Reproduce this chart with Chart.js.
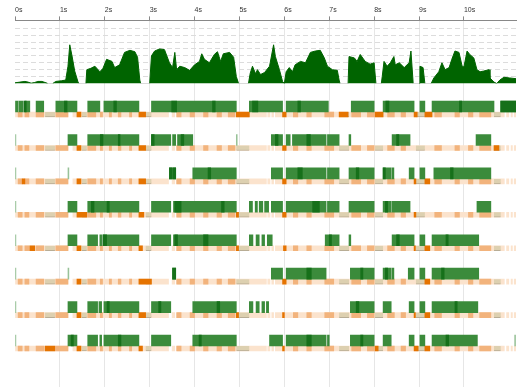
<!DOCTYPE html>
<html lang="en">
<head>
<meta charset="UTF-8">
<title>Thread timeline</title>
<script src="https://cdn.jsdelivr.net/npm/chart.js"></script>
<style>
    * { margin: 0; padding: 0; box-sizing: border-box; }
    body { background: #fff; width: 518px; height: 387px; overflow: hidden; }
    #timeline { display: block; }
</style>
</head>
<body>
<canvas id="timeline" width="518" height="387"></canvas>
<script>
// time axis labels (seconds)
const tickLabels = ['0s', '1s', '2s', '3s', '4s', '5s', '6s', '7s', '8s', '9s', '10s'];

// activity curve on top (time in s, value)
const areaTimes = [0, 0.11, 0.22, 0.29, 0.36, 0.44, 0.51, 0.6, 0.69, 0.73, 0.84, 0.91, 1.04, 1.13, 1.18, 1.22, 1.27, 1.33, 1.4, 1.42,
    1.58, 1.6, 1.69, 1.78, 1.89, 1.96, 2.04, 2.16, 2.22, 2.33, 2.44, 2.56, 2.67, 2.73, 2.78, 2.8,
    3.0, 3.04, 3.11, 3.22, 3.33, 3.44, 3.51, 3.56, 3.6, 3.67, 3.78, 3.89, 4.0, 4.11, 4.16, 4.22, 4.33, 4.44, 4.51, 4.58, 4.64, 4.78, 4.87, 4.93, 4.98,
    5.2, 5.24, 5.29, 5.36, 5.4, 5.47, 5.56, 5.67, 5.76, 5.8, 5.89, 5.96, 6.0,
    6.04, 6.11, 6.18, 6.24, 6.36, 6.47, 6.58, 6.69, 6.8, 6.89, 6.96, 7.07, 7.18, 7.22, 7.24,
    7.42, 7.44, 7.56, 7.62, 7.69, 7.8, 7.91, 8.0, 8.04,
    8.16, 8.18, 8.22, 8.29, 8.36, 8.44, 8.47, 8.56, 8.67, 8.78, 8.82, 8.87,
    9.0, 9.02, 9.09, 9.13, 9.27, 9.33, 9.44, 9.51, 9.58, 9.67, 9.73, 9.8, 9.89, 9.96, 10.0, 10.07, 10.13, 10.22, 10.29, 10.36, 10.44, 10.56, 10.58, 10.67, 10.73,
    10.8, 10.89, 11.02, 11.16];
const areaValues = [0.1, 0.2, 0.3, 0.2, 0.05, 0.15, 0.3, 0.3, 0.1, 0, 0, 0.3, 0.4, 0.5, 2.5, 5.6, 4.0, 1.8, 0.3, 0,
    0, 2.0, 2.2, 2.5, 1.7, 2.2, 3.5, 3.2, 2.3, 2.7, 4.5, 4.8, 4.6, 3.8, 0.5, 0,
    0, 4.0, 4.7, 5.0, 4.9, 3.0, 2.3, 4.5, 2.0, 2.5, 2.3, 1.9, 2.7, 3.2, 4.3, 3.5, 3.0, 4.2, 4.6, 3.2, 4.3, 4.5, 3.8, 1.0, 0,
    0, 1.5, 2.5, 1.4, 2.0, 1.3, 1.6, 2.5, 5.6, 3.9, 2.0, 0.3, 0,
    1.7, 2.3, 1.7, 2.7, 3.2, 3.0, 4.5, 4.7, 4.8, 3.7, 2.5, 2.0, 1.9, 0.5, 0,
    0, 3.9, 3.7, 3.2, 4.2, 3.2, 2.8, 3.0, 0,
    0, 1.0, 3.2, 2.5, 3.0, 3.9, 2.7, 3.0, 2.3, 3.0, 4.7, 0,
    0, 2.5, 2.3, 0, 0, 0.8, 1.7, 3.0, 2.0, 2.3, 3.5, 4.7, 4.5, 2.5, 2.4, 4.7, 4.2, 3.7, 2.0, 1.7, 1.8, 2.0, 0.8, 0.2, 0,
    0.5, 0.9, 0.8, 0.7];

// thread lanes: running intervals [start, end] in s
const running = [
    [[0, 0.07], [0.09, 0.18], [0.22, 0.33], [0.47, 0.64], [0.91, 1.38], [1.62, 1.89], [1.98, 2.76], [3.04, 4.93], [5.22, 5.96], [6.04, 6.98], [7.49, 8.0], [8.2, 8.89], [9.02, 9.13], [9.29, 10.67], [10.82, 11.16]],
    [[1.18, 1.38], [1.62, 2.76], [3.04, 3.47], [3.51, 3.58], [3.62, 3.96], [5.71, 5.96], [6.04, 6.13], [6.18, 6.93], [6.96, 7.22], [7.44, 7.48], [8.4, 8.8], [10.27, 10.6]],
    [[3.44, 3.49], [3.51, 3.58], [3.96, 4.93], [5.71, 5.96], [6.04, 6.93], [6.96, 7.22], [7.44, 8.0], [8.2, 8.38], [8.4, 8.44], [8.78, 8.89], [9.02, 9.13], [9.33, 10.6]],
    [[1.18, 1.38], [1.62, 2.76], [3.04, 3.47], [3.53, 4.93], [5.22, 5.29], [5.35, 5.4], [5.44, 5.52], [5.56, 5.65], [5.71, 5.96], [6.04, 6.93], [6.96, 7.22], [7.44, 8.0], [8.2, 8.38], [8.4, 8.8], [10.29, 10.6]],
    [[1.18, 1.38], [1.62, 1.84], [1.89, 1.93], [1.96, 2.76], [3.04, 3.47], [3.53, 4.93], [5.22, 5.3], [5.37, 5.44], [5.5, 5.56], [5.62, 5.73], [6.91, 7.22], [7.44, 7.48], [8.4, 8.89], [9.02, 9.13], [9.29, 10.33]],
    [[3.51, 3.58], [5.71, 5.96], [6.04, 6.93], [7.47, 8.0], [8.2, 8.38], [8.4, 8.44], [8.76, 8.89], [9.02, 9.13], [9.29, 10.33]],
    [[1.18, 1.38], [1.62, 1.84], [1.87, 1.93], [1.98, 2.76], [3.04, 3.47], [3.96, 4.93], [5.22, 5.3], [5.37, 5.44], [5.5, 5.56], [5.6, 5.65], [7.47, 8.0], [8.2, 8.38], [8.78, 8.89], [9.02, 9.13], [9.29, 10.31]],
    [[1.18, 1.38], [1.62, 1.84], [1.89, 1.93], [1.98, 2.76], [3.04, 3.47], [3.96, 4.93], [5.67, 5.96], [6.04, 6.93], [6.96, 7.0], [7.47, 8.0], [8.2, 8.38], [8.78, 8.89], [9.02, 9.13], [9.29, 10.3]]
];

// darker bursts inside the running intervals
const busy = [
    [[0.2, 0.25], [1.1, 1.16], [2.2, 2.26], [3.49, 3.6], [4.4, 4.46], [5.29, 5.41], [6.3, 6.36], [8.26, 8.33], [9.9, 9.95], [10.82, 11.16]],
    [[1.9, 1.96], [2.3, 2.34], [3.04, 3.1], [3.7, 3.76], [5.8, 5.86], [6.5, 6.58], [8.5, 8.55]],
    [[3.44, 3.49], [3.51, 3.58], [4.3, 4.36], [6.3, 6.4], [7.6, 7.66], [8.2, 8.25], [9.7, 9.76]],
    [[1.7, 1.76], [2.05, 2.1], [3.56, 3.7], [4.6, 4.66], [6.63, 6.78], [8.25, 8.3]],
    [[1.96, 2.04], [3.56, 3.62], [4.2, 4.3], [7.0, 7.05], [8.5, 8.56], [9.6, 9.65]],
    [[3.51, 3.58], [6.5, 6.6], [7.7, 7.75], [8.25, 8.3], [9.5, 9.56]],
    [[2.05, 2.1], [3.2, 3.25], [4.5, 4.56], [7.6, 7.66], [9.8, 9.85]],
    [[1.25, 1.3], [2.3, 2.36], [4.1, 4.15], [6.5, 6.6], [7.7, 7.75], [9.6, 9.66]]
];

// thin start markers per lane (s)
const markers = [[], [0, 4.93], [0, 1.18], [0], [0], [0, 1.18], [0], [0, 11.13]];

// blocked intervals per lane
const blocked = [
    [[1.38, 1.47], [2.76, 2.91], [4.93, 5.22], [5.96, 6.04], [7.22, 7.42], [8.02, 8.2], [8.89, 8.96], [9.13, 9.29]],
    [[1.38, 1.47], [2.76, 2.91], [5.96, 6.04], [10.67, 10.78]],
    [[0.16, 0.22], [1.38, 1.47], [2.76, 2.91], [5.96, 6.04], [8.89, 8.93], [9.13, 9.24]],
    [[1.38, 1.6], [2.76, 2.87], [4.93, 4.98], [5.96, 6.04], [8.89, 8.93]],
    [[0.33, 0.44], [1.38, 1.47], [2.76, 2.84], [4.93, 4.98], [5.98, 6.04], [8.89, 8.92], [9.13, 9.24]],
    [[1.38, 1.47], [2.76, 3.04], [5.96, 6.04], [9.13, 9.24]],
    [[1.38, 1.47], [2.76, 2.91], [4.93, 4.98], [5.96, 6.0], [8.89, 8.92], [9.13, 9.24]],
    [[0.67, 0.89], [1.38, 1.47], [2.76, 2.84], [5.96, 6.0], [8.02, 8.09], [8.89, 8.98], [9.13, 9.24]]
];

// states shared by every lane
const waiting = [[0.67, 0.89], [1.49, 1.6], [2.91, 3.04], [4.93, 5.22], [7.22, 7.44], [8.02, 8.2], [8.93, 9.13], [10.67, 10.82]];
const runnable = [[0.07, 0.16], [0.22, 0.31], [0.47, 0.64], [0.91, 1.18], [1.62, 1.8], [1.9, 1.95], [2.1, 2.15], [2.3, 2.36], [2.55, 2.6],
    [3.6, 3.7], [3.9, 4.0], [4.2, 4.3], [4.5, 4.6], [4.75, 4.9], [6.2, 6.3], [6.5, 6.6], [6.9, 7.1], [7.5, 7.7], [7.85, 8.0],
    [8.3, 8.45], [8.6, 8.7], [9.35, 9.5], [9.8, 9.9], [10.1, 10.2], [10.35, 10.6]];
const idle = [[0, 1.18], [1.29, 3.42], [3.5, 3.56], [3.62, 5.6], [5.63, 5.68], [5.72, 5.76], [5.8, 10.9], [10.95, 11.0], [11.05, 11.08], [11.12, 11.16]];

const lanes = [0, 1, 2, 3, 4, 5, 6, 7];

function perLane(lists) {
    return lists.flatMap((list, lane) => list.map(s => ({ x: s, y: lane })));
}
function shared(list) {
    return lanes.flatMap(lane => list.map(s => ({ x: s, y: lane })));
}

const barBase = { type: 'bar', indexAxis: 'y', xAxisID: 'x', yAxisID: 'yLanes', borderWidth: 0 };

new Chart(document.getElementById('timeline'), {
    type: 'bar',
    data: {
        datasets: [
            {
                type: 'line',
                label: 'activity',
                xAxisID: 'x',
                yAxisID: 'yArea',
                data: areaTimes.map((t, i) => ({ x: t, y: areaValues[i] })),
                fill: 'origin',
                backgroundColor: '#006400',
                borderColor: '#006400',
                borderWidth: 1,
                pointRadius: 0,
                tension: 0,
                segment: {
                    borderColor: c => (c.p0.parsed.y === 0 && c.p1.parsed.y === 0) ? '#b5b5b5' : '#006400'
                }
            },
            { ...barBase, label: 'busy', stack: 'g', barThickness: 11, backgroundColor: '#16701a', data: perLane(busy) },
            { ...barBase, label: 'running', stack: 'g', barThickness: 11, backgroundColor: '#3b8b3b', data: perLane(running) },
            { ...barBase, label: 'start', stack: 'g', barThickness: 11, backgroundColor: '#98c298',
              data: perLane(markers.map(l => l.map(t => [t, t + 0.02]))) },
            { ...barBase, label: 'blocked', stack: 'o', barThickness: 5, backgroundColor: '#e57300', data: perLane(blocked) },
            { ...barBase, label: 'waiting', stack: 'o', barThickness: 5, backgroundColor: '#ddd0b0',
              borderColor: '#b8ad95', borderWidth: { top: 0, left: 0, right: 0, bottom: 1 }, data: shared(waiting) },
            { ...barBase, label: 'runnable', stack: 'o', barThickness: 5, backgroundColor: '#f2b37c', data: shared(runnable) },
            { ...barBase, label: 'idle', stack: 'o', barThickness: 5, backgroundColor: '#fbe3cd', data: shared(idle) }
        ]
    },
    options: {
        responsive: false,
        animation: false,
        layout: { padding: { left: 15, right: 1, top: 4, bottom: 0 } },
        plugins: { legend: { display: false }, tooltip: { enabled: false } },
        scales: {
            x: {
                type: 'linear',
                position: 'top',
                min: 0,
                max: 11.16,
                offset: false,
                stacked: false,
                border: { display: true, color: '#888' },
                grid: {
                    offset: false,
                    color: c => (Number.isInteger(c.tick.value) && c.tick.value > 0) ? '#e6e6e6' : 'rgba(0,0,0,0)',
                    tickColor: c => Number.isInteger(c.tick.value) ? '#888' : 'rgba(0,0,0,0)',
                    tickLength: 4
                },
                ticks: {
                    stepSize: 1,
                    align: 'start',
                    padding: 2,
                    maxRotation: 0,
                    autoSkip: false,
                    color: '#333',
                    font: { family: 'Liberation Sans', size: 7 },
                    callback: v => tickLabels[v] ?? ''
                }
            },
            yLanes: {
                type: 'linear',
                position: 'left',
                stack: 'v',
                stackWeight: 303,
                reverse: true,
                offset: false,
                min: -0.854,
                max: 8.228,
                grid: { display: false, drawTicks: false, offset: false },
                border: { display: false },
                ticks: { display: false }
            },
            yArea: {
                type: 'linear',
                position: 'left',
                stack: 'v',
                stackWeight: 63,
                min: 0,
                max: 9.13,
                grid: {
                    drawTicks: false,
                    color: c => (c.tick.value >= 1 && c.tick.value <= 8) ? '#dcdcdc' : 'rgba(0,0,0,0)'
                },
                border: { display: false, dash: [5, 3] },
                ticks: { display: false, stepSize: 1 }
            }
        }
    }
});
</script>
</body>
</html>
